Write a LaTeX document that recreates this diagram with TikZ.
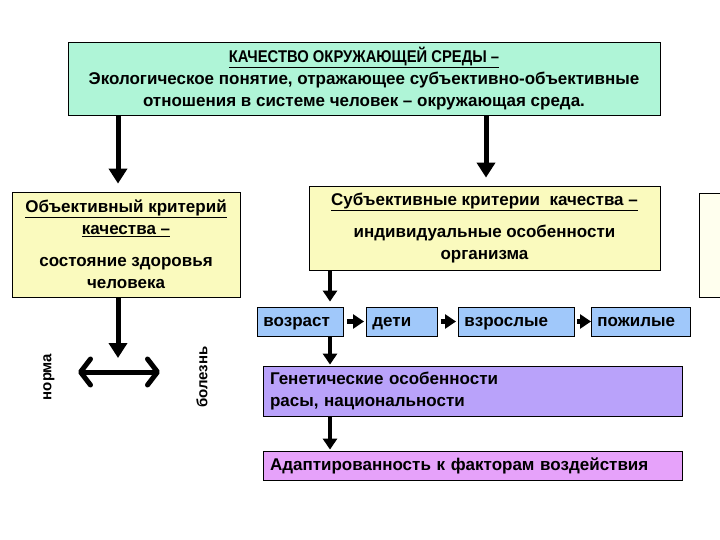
\documentclass[tikz,border=0pt]{standalone}
\usepackage{fontspec}
\setmainfont{Liberation Sans}[BoldFont={Liberation Sans Bold}]
\usetikzlibrary{arrows.meta}
\definecolor{mint}{RGB}{175,245,215}
\definecolor{pale}{RGB}{250,250,190}
\definecolor{cream}{RGB}{255,255,238}
\definecolor{sky}{RGB}{160,200,250}
\definecolor{lav}{RGB}{185,162,250}
\definecolor{pinkv}{RGB}{230,162,250}
\tikzset{
  box/.style={draw=black, line width=0.8pt, inner sep=0pt, font=\bfseries\fontsize{17}{22}\selectfont},
  cbox/.style={box, align=center},
  lbox/.style={box, align=left},
  chain/.style={box, fill=sky, minimum height=29pt, text height=12pt, text depth=3pt, inner xsep=6pt, anchor=west},
  bigarr/.style={line width=5pt, -{Triangle[width=18pt,length=15pt]}},
  smallarr/.style={line width=4.5pt, -{Triangle[width=14pt,length=11pt]}},
  rot/.style={font=\bfseries\fontsize{15}{17}\selectfont, inner sep=0pt}
}
\begin{document}
\begin{tikzpicture}[x=1pt,y=-1pt]
\useasboundingbox (0,0) rectangle (720,540);
\clip (0,0) rectangle (720,540);
% top box
\node[cbox, fill=mint, minimum width=592pt, minimum height=73pt] (top) at (364,78.5)
 {\underline{\scalebox{0.87}[1]{КАЧЕСТВО ОКРУЖАЮЩЕЙ СРЕДЫ –}}\\
  Экологическое понятие, отражающее субъективно-объективные\\
  отношения в системе человек – окружающая среда.};
% left box
\node[cbox, fill=pale, minimum width=228pt, minimum height=105pt] (obj) at (126,244.5)
 {\underline{Объективный критерий}\\
  \underline{качества –}\\[10pt]
  состояние здоровья\\
  человека};
% right box
\node[cbox, fill=pale, minimum width=351pt, minimum height=84pt] (subj) at (484.5,228)
 {\underline{Субъективные критерии\ \ качества –}\\[10pt]
  индивидуальные особенности\\
  организма};
% partial box at right edge
\node[draw=black, line width=0.8pt, fill=cream, minimum width=60pt, minimum height=104pt, inner sep=0pt] (edge) at (729,245) {};
% age chain
\node[chain, minimum width=86pt, text width=74pt] (age) at (257,321.5) {возраст};
\node[chain, minimum width=71pt, text width=59pt] (kid) at (366,321.5) {дети};
\node[chain, minimum width=116pt, text width=104pt] (adult) at (458,321.5) {взрослые};
\node[chain, minimum width=99pt, text width=87pt] (old) at (591,321.5) {пожилые};
% genetic
\node[lbox, fill=lav, minimum width=419pt, minimum height=50pt, text width=405pt] (gen) at (472.5,391)
 {Генетические особенности\\ расы, национальности};
\node[lbox, fill=pinkv, minimum width=419pt, minimum height=29pt, text width=405pt, text height=12pt, text depth=3pt] (adapt) at (472.5,465.5)
 {Адаптированность к факторам воздействия};
% rotated labels
\node[rot, rotate=90] (norm) at (49,377) {норма};
\node[rot, rotate=90] (ill) at (202,377) {болезнь};
% helper coordinates
\coordinate (xl) at (118,0);
\coordinate (xr) at (486,0);
\coordinate (xa) at (330,0);
\coordinate (dl) at (78,372);
\coordinate (dr) at (160,372);
% arrows
\draw[bigarr, shorten >=8pt] (top.south -| xl) -- (obj.north -| xl);
\draw[bigarr, shorten >=8pt] (top.south -| xr) -- (subj.north -| xr);
\draw[bigarr] (obj.south -| xl) -- (118,358);
\draw[line width=5pt, line cap=round, {Straight Barb[length=10pt,width=26pt,line cap=round,line join=round]}-{Straight Barb[length=10pt,width=26pt,line cap=round,line join=round]}] (dl) -- (dr);
\draw[smallarr, shorten >=5pt] (subj.south -| xa) -- (age.north -| xa);
\draw[smallarr, shorten >=1pt] (age.south -| xa) -- (gen.north -| xa);
\draw[smallarr, shorten >=1pt] (gen.south -| xa) -- (adapt.north -| xa);
\draw[smallarr, shorten <=3pt, shorten >=2pt] (age) -- (kid);
\draw[smallarr, shorten <=3pt, shorten >=2pt] (kid) -- (adult);
\draw[smallarr, shorten <=2pt, shorten >=0pt] (adult) -- (old);
\end{tikzpicture}
\end{document}
